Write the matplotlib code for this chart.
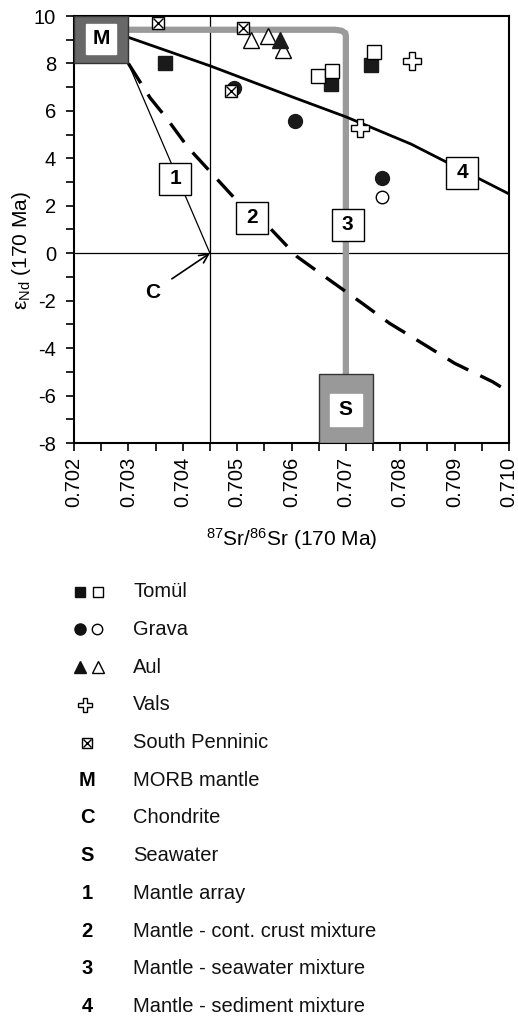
import matplotlib
matplotlib.use("Agg")
import matplotlib.pyplot as plt
import numpy as np
from matplotlib.patches import Rectangle

plt.rcParams['font.family'] = ['Liberation Sans', 'DejaVu Sans']
plt.rcParams['mathtext.fontset'] = 'custom'
plt.rcParams['mathtext.rm'] = 'Liberation Sans'
plt.rcParams['mathtext.it'] = 'Liberation Sans:italic'
plt.rcParams['mathtext.bf'] = 'Liberation Sans:bold'
plt.rcParams['axes.unicode_minus'] = False

# --- samples ---
tomul_filled_x = [0.70367, 0.70673, 0.70747]
tomul_filled_y = [8.03, 7.14, 7.93]
tomul_open_x = [0.70649, 0.70674, 0.70752]
tomul_open_y = [7.46, 7.67, 8.48]
grava_filled_x = [0.70495, 0.70606, 0.70766]
grava_filled_y = [6.97, 5.56, 3.17]
grava_open_x = [0.70766]
grava_open_y = [2.37]
aul_filled_x = [0.70578]
aul_filled_y = [8.98]
aul_open_x = [0.70526, 0.70557, 0.70585]
aul_open_y = [8.98, 9.15, 8.56]
vals_x = [0.70822, 0.70726]
vals_y = [8.12, 5.28]
spenn_x = [0.70354, 0.70511, 0.70488]
spenn_y = [9.72, 9.51, 6.83]

# --- reservoirs ---
morb_x = (0.702, 0.703)
morb_y = (8.0, 10.0)
sea_x = (0.7065, 0.7075)
sea_y = (-8.0, -5.1)
chondrite = (0.7045, 0.0)

# --- mixing curves ---
arr1_x = [0.703, 0.7045]
arr1_y = [8.0, 0.0]
mix2_x = [0.703, 0.7034, 0.7037, 0.7041, 0.7046, 0.7050, 0.7056, 0.7061,
          0.7067, 0.7073, 0.7078, 0.7084, 0.7090, 0.7097, 0.7100]
mix2_y = [8.0, 6.55, 5.7, 4.45, 3.2, 2.2, 1.07, -0.14,
          -1.13, -2.11, -2.95, -3.79, -4.64, -5.42, -5.85]
mix3_x = [0.703, 0.7068, 0.70692, 0.70699, 0.707, 0.707]
mix3_y = [9.42, 9.42, 9.38, 9.28, 9.15, -5.1]
mix4_x = [0.703, 0.7045, 0.706, 0.707, 0.7082, 0.710]
mix4_y = [9.1, 7.9, 6.6, 5.75, 4.6, 2.5]

curve_labels = ['1', '2', '3', '4']
curve_label_x = [0.70386, 0.70528, 0.70703, 0.70914]
curve_label_y = [3.14, 1.50, 1.20, 3.40]

legend_labels = ['Tomül', 'Grava', 'Aul', 'Vals', 'South Penninic',
                 'MORB mantle', 'Chondrite', 'Seawater', 'Mantle array',
                 'Mantle - cont. crust mixture', 'Mantle - seawater mixture',
                 'Mantle - sediment mixture']

fig = plt.figure(figsize=(5.18, 10.21), dpi=100)

# overlay in pixel coordinates for the key below the plot
lax = fig.add_axes([0, 0, 1, 1])
lax.set_xlim(0, 518)
lax.set_ylim(1021, 0)
lax.axis('off')

ax = fig.add_axes([74 / 518, 1 - 443 / 1021, 435 / 518, 427 / 1021])
ax.set_xlim(0.702, 0.710)
ax.set_ylim(-8, 10)

ax.axhline(0, color='black', lw=0.9, zorder=1)
ax.axvline(chondrite[0], color='black', lw=0.9, zorder=1)

ax.plot(mix3_x, mix3_y, color='#9a9a9a', lw=4.5, solid_joinstyle='round', zorder=2)
ax.plot(arr1_x, arr1_y, color='black', lw=0.9, zorder=3)
ax.plot(mix2_x, mix2_y, color='black', lw=2.4, dashes=(7, 4), zorder=3)
ax.plot(mix4_x, mix4_y, color='black', lw=2.0, zorder=3)

ax.add_patch(Rectangle((morb_x[0], morb_y[0]), morb_x[1] - morb_x[0], morb_y[1] - morb_y[0],
                       facecolor='#686868', edgecolor='#333333', lw=1, zorder=4))
ax.add_patch(Rectangle((sea_x[0], sea_y[0]), sea_x[1] - sea_x[0], sea_y[1] - sea_y[0],
                       facecolor='#999999', edgecolor='#333333', lw=1, zorder=4))
mx = np.mean(morb_x)
my = np.mean(morb_y) + 0.05
sx = np.mean(sea_x)
sy = sea_y[0] + 1.4
ax.plot(mx, my, 's', ms=22, mfc='white', mec='white', zorder=5)
ax.text(mx, my, 'M', ha='center', va='center', fontsize=15, fontweight='bold', zorder=6)
ax.plot(sx, sy, 's', ms=23, mfc='white', mec='white', zorder=5)
ax.text(sx, sy, 'S', ha='center', va='center', fontsize=15, fontweight='bold', zorder=6)

ax.annotate('', xy=chondrite, xytext=(0.7038, -1.08),
            arrowprops=dict(arrowstyle='->', color='black', lw=1.2,
                            mutation_scale=16, shrinkA=0, shrinkB=0), zorder=6)
ax.text(0.70344, -1.66, 'C', ha='center', va='center', fontsize=15, fontweight='bold')

for lab, lx, ly in zip(curve_labels, curve_label_x, curve_label_y):
    ax.plot(lx, ly, 's', ms=23.5, mfc='white', mec='black', mew=1, zorder=7)
    ax.text(lx, ly, lab, ha='center', va='center', fontsize=15, fontweight='bold', zorder=8)

mk = dict(ls='none', zorder=9)
ax.plot(tomul_filled_x, tomul_filled_y, 's', ms=10, mfc='#1a1a1a', mec='#1a1a1a', **mk)
ax.plot(tomul_open_x, tomul_open_y, 's', ms=10, mfc='white', mec='black', mew=1, **mk)
ax.plot(grava_filled_x, grava_filled_y, 'o', ms=10, mfc='#1a1a1a', mec='#1a1a1a', **mk)
ax.plot(grava_open_x, grava_open_y, 'o', ms=9, mfc='white', mec='black', mew=1, **mk)
ax.plot(aul_open_x, aul_open_y, '^', ms=11, mfc='white', mec='black', mew=1, **mk)
ax.plot(aul_filled_x, aul_filled_y, '^', ms=11, mfc='#1a1a1a', mec='#1a1a1a', **mk)
ax.plot(vals_x, vals_y, 'P', ms=13, mfc='white', mec='black', mew=1, **mk)
ax.plot(spenn_x, spenn_y, 's', ms=8.5, mfc='white', mec='black', mew=1, **mk)
ax.plot(spenn_x, spenn_y, 'x', ms=7, mec='black', mew=1, **mk)

ax.set_xticks(np.arange(0.702, 0.71001, 0.001))
ax.set_xticklabels(['%.3f' % v for v in np.arange(0.702, 0.71001, 0.001)], rotation=90)
ax.set_xticks(np.arange(0.7025, 0.710, 0.001), minor=True)
ax.set_yticks(np.arange(-8, 11, 2))
ax.set_yticks(np.arange(-7, 10, 2), minor=True)
ax.tick_params(which='both', direction='out', length=6, width=1.2, labelsize=14.5)
ax.tick_params(axis='x', pad=4)
ax.tick_params(axis='y', pad=7)
for sp in ax.spines.values():
    sp.set_linewidth(1.5)

ax.set_xlabel(r'$^{87}$Sr/$^{86}$Sr (170 Ma)', fontsize=15)
ax.xaxis.set_label_coords(0.5, -0.195)
ax.set_ylabel(r'ε$_{\rm Nd}$ (170 Ma)', fontsize=15)
ax.yaxis.set_label_coords(-0.095, 0.45)

# --- key ---
row0 = 591.7
step = 37.7
text_x = 133
ys = [row0 + i * step for i in range(len(legend_labels))]
for lab, y in zip(legend_labels, ys):
    lax.text(text_x, y, lab, ha='left', va='center', fontsize=14.5, color='#111111')

lax.plot(80, ys[0], 's', ms=7.5, mfc='#111111', mec='#111111')
lax.plot(98, ys[0], 's', ms=7.5, mfc='white', mec='black', mew=1)
lax.plot(80, ys[1], 'o', ms=8, mfc='#111111', mec='#111111')
lax.plot(97, ys[1], 'o', ms=7.5, mfc='white', mec='black', mew=1)
lax.plot(80, ys[2], '^', ms=8, mfc='#111111', mec='#111111')
lax.plot(98, ys[2], '^', ms=8, mfc='white', mec='black', mew=1)
lax.plot(85, ys[3], 'P', ms=10, mfc='white', mec='black', mew=1)
lax.plot(87, ys[4], 's', ms=7, mfc='white', mec='black', mew=1)
lax.plot(87, ys[4], 'x', ms=6, mec='black', mew=1)
for lab, y in zip(['M', 'C', 'S', '1', '2', '3', '4'], ys[5:]):
    lax.text(87, y, lab, ha='center', va='center', fontsize=14.5, fontweight='bold')

fig.savefig('out.png', dpi=100)
